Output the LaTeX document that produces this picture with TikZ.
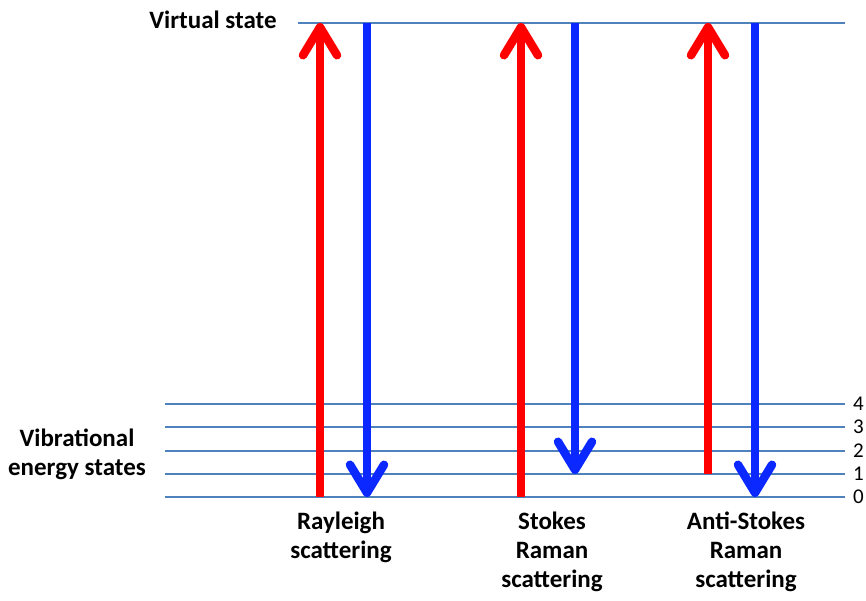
\documentclass[tikz,border=0pt]{standalone}
\usepackage{fontspec}
\setmainfont{Carlito}
\usetikzlibrary{arrows.meta}
\definecolor{lvl}{HTML}{4F81BD}
\definecolor{arrred}{HTML}{FF0000}
\definecolor{arrblue}{HTML}{0A28FF}
\begin{document}
\begin{tikzpicture}[x=1pt,y=-1pt,
  level/.style={draw=lvl, line width=2.8pt},
  upar/.style={draw=arrred, line width=8.5pt, -{Straight Barb[length=28pt,width=34pt,round]}},
  downar/.style={draw=arrblue, line width=8.5pt, -{Straight Barb[length=28pt,width=34pt,round]}},
  lbl/.style={font=\bfseries\fontsize{25}{29}\selectfont, align=center, inner sep=0pt},
  num/.style={font=\fontsize{21}{24}\selectfont, anchor=west, inner sep=0pt}
]
\useasboundingbox (0,0) rectangle (866,601);
% levels
\coordinate (vL) at (298,23); \coordinate (vR) at (845,23);
\foreach \n/\y in {0/497,1/474,2/451,3/427,4/404}{
  \coordinate (l\n L) at (165,\y);
  \coordinate (l\n R) at (845,\y);
  \draw[level] (l\n L) -- (l\n R);
  \node[num] (n\n) at (853,\y) {\n};
}
\draw[level] (vL) -- (vR);
% arrows
\coordinate (ra) at (320,497); \coordinate (rat) at (320,23);
\coordinate (rb) at (367,23);  \coordinate (rbt) at (367,497);
\coordinate (sa) at (521,497); \coordinate (sat) at (521,23);
\coordinate (sb) at (575,23);  \coordinate (sbt) at (575,474);
\coordinate (aa) at (708,474); \coordinate (aat) at (708,23);
\coordinate (ab) at (755,23);  \coordinate (abt) at (755,497);
\draw[upar] (ra) -- (rat);
\draw[downar] (rb) -- (rbt);
\draw[upar] (sa) -- (sat);
\draw[downar] (sb) -- (sbt);
\draw[upar] (aa) -- (aat);
\draw[downar] (ab) -- (abt);
% labels
\node[lbl] (virt) at (213,20) {Virtual state};
\node[lbl] (vib) at (77,454) {Vibrational\\energy states};
\node[lbl, anchor=north] (ray) at (341,512) {Rayleigh\\scattering};
\node[lbl, anchor=north] (sto) at (552,512) {Stokes\\Raman\\scattering};
\node[lbl, anchor=north] (ast) at (746,512) {Anti-Stokes\\Raman\\scattering};
\end{tikzpicture}
\end{document}
